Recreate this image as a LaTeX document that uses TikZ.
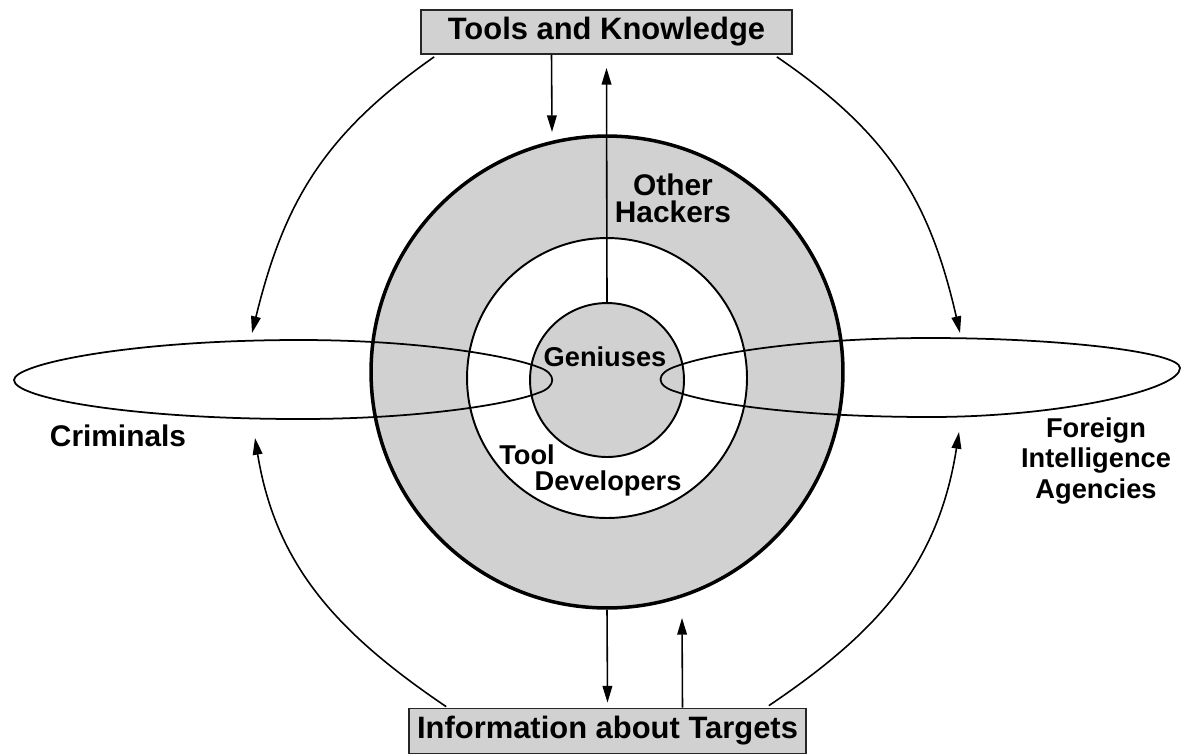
\documentclass[tikz,border=0pt]{standalone}
\usepackage{fontspec}
\setmainfont{Liberation Sans}
\usetikzlibrary{calc, arrows.meta}
\definecolor{stipple}{gray}{0.82}

\begin{document}
\begin{tikzpicture}[x=0.02cm, y=-0.02cm,
    big/.style={font=\bfseries\fontsize{17}{15.5}\selectfont, align=center},
    small/.style={font=\bfseries\fontsize{15.5}{17.6}\selectfont, align=center},
    src/.style={draw=black!85, line width=1pt, fill=stipple, inner sep=0pt,
        font=\bfseries\fontsize{17.6}{20}\selectfont},
    flow/.style={line width=0.9pt, -{Triangle[length=9.5pt, width=5.5pt]}},
    rim/.style={circle, draw, inner sep=0pt}]

    \useasboundingbox (0,0) rectangle (1182,755);

    % rings
    \node[rim, fill=stipple, line width=2pt, minimum size=9.44cm] (hackers) at (607,372) {};
    \node[rim, fill=white, line width=1.1pt, minimum size=5.6cm] (devs) at (607,378) {};
    \node[rim, fill=stipple, line width=1.1pt, minimum size=3.08cm] (genius) at (607,380) {};

    % criminals and foreign agencies
    \draw[line width=1pt] (14,380) .. controls (14,364) and (130,340) .. (300,340)
        .. controls (420,340) and (510,356) .. (538,367)
        .. controls (557,373) and (557,387) .. (538,393)
        .. controls (510,404) and (420,419) .. (300,419)
        .. controls (130,419) and (14,398) .. (14,380) -- cycle;
    \draw[line width=1pt] (1180,368) .. controls (1180,352) and (1060,338) .. (930,338)
        .. controls (800,338) and (710,354) .. (677,366)
        .. controls (655,373) and (655,386) .. (677,392)
        .. controls (710,404) and (800,417) .. (930,417)
        .. controls (1060,417) and (1180,390) .. (1180,368) -- cycle;

    \node[big] (hacklbl) at (673,198) {Other\\Hackers};
    \node[small] (genlbl) at (605,357) {Geniuses};
    \node[small] (toollbl) at (527,455) {Tool};
    \node[small] (devlbl) at (608,483) {Developers};
    \node[big] (crim) at (118,436) {Criminals};
    \node[small] (fia) at (1096,461) {Foreign\\Intelligence\\Agencies};

    \node[src, minimum width=7.42cm, minimum height=0.88cm] (tools) at (606.5,32) {Tools and Knowledge};
    \node[src, minimum width=7.94cm, minimum height=0.9cm] (info) at (607.5,731) {Information about Targets};

    \coordinate (kdown) at (552,132);
    \coordinate (iup) at (682,618);
    \coordinate (crimtop) at (252,333);
    \coordinate (fiatop) at (960,333);
    \coordinate (crimbot) at (255,438);
    \coordinate (fiabot) at (959,432);

    % flows
    \draw[flow] ($(tools.south)+(-55,0)$) -- (kdown);
    \draw[flow] (genius.north) -- ($(tools.south)+(0,13)$);
    \draw[flow] (hackers.south) -- ($(info.north)+(0,-5)$);
    \draw[flow] ($(info.north)+(75,0)$) -- (iup);

    \draw[flow] ($(tools.south west)+(14,2)$) .. controls (324,134) and (284,202) .. (crimtop);
    \draw[flow] ($(tools.south east)+(-16,2)$) .. controls (890,134) and (930,202) .. (fiatop);
    \draw[flow] ($(info.north west)+(38,-1)$) .. controls (339,634) and (276,567) .. (crimbot);
    \draw[flow] ($(info.north east)+(-38,-2)$) .. controls (875,634) and (938,567) .. (fiabot);
\end{tikzpicture}
\end{document}
